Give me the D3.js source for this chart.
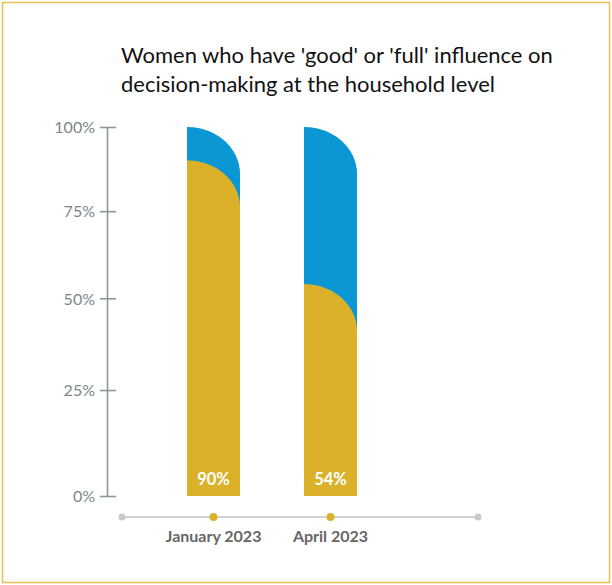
<!DOCTYPE html>
<html>
<head>
<meta charset="utf-8">
<script src="https://cdn.jsdelivr.net/npm/d3@7"></script>
<style>
  html, body { margin: 0; padding: 0; background: #fff; }
  svg { display: block; }
  text { font-family: Lato, "Open Sans", sans-serif; }
</style>
</head>
<body>
<svg id="chart" width="612" height="585"></svg>
<script>
// Survey rounds and share of women reporting good/full influence
const categories = ["January 2023", "April 2023"];
const shareValues = [0.90, 0.54];
const fullValues = [1, 1];
const tickValues = [0, 0.25, 0.5, 0.75, 1];
const tickLabels = ["0%", "25%", "50%", "75%", "100%"];
const titleLines = [
  "Women who have 'good' or 'full' influence on",
  "decision-making at the household level"
];

const BLUE = "#0A97D4";
const GOLD = "#DBB12A";
const AXIS = "#8C9898";
const LABEL = "#7A8888";

const svg = d3.select("#chart");

// Frame
svg.append("rect")
  .attr("x", 2.5).attr("y", 2.5)
  .attr("width", 607).attr("height", 580)
  .attr("fill", "none")
  .attr("stroke", "#E6C35C")
  .attr("stroke-width", 1.6);

// Title
const title = svg.append("text")
  .attr("x", 121)
  .attr("fill", "#111")
  .style("font-size", "20px");
title.selectAll("tspan").data(titleLines).join("tspan")
  .attr("x", 121)
  .attr("y", (d, i) => 63 + i * 29)
  .text(d => d);
// fit the first line to the title block width
const firstLen = title.select("tspan").node().getComputedTextLength();
title.style("font-size", (20 * 432 / firstLen).toFixed(2) + "px");

// Scales
const y = d3.scalePow().exponent(0.9).domain([0, 1]).range([496, 127]);
const x = d3.scalePoint().domain(categories).range([155, 389]).padding(0.5);
const barW = 53;
const capH = 47;

// Y axis
const yAxis = d3.axisLeft(y)
  .tickValues(tickValues)
  .tickFormat((d, i) => tickLabels[i])
  .tickSize(0)
  .tickPadding(12);
const yg = svg.append("g").attr("transform", "translate(107,0)").call(yAxis);
yg.select(".domain").attr("stroke", AXIS).attr("stroke-width", 1.6);
yg.selectAll(".tick line").remove();
yg.selectAll(".tick").append("line")
  .attr("x1", -7).attr("x2", 9)
  .attr("stroke", AXIS).attr("stroke-width", 1.6);
yg.selectAll(".tick text")
  .attr("fill", LABEL)
  .style("font-size", "16px")
  .attr("dy", "0.36em");

// Bar shape: straight left edge, rounded quarter-ellipse top-right corner
function barPath(cx, v) {
  const x0 = cx - barW / 2, x1 = cx + barW / 2;
  const yb = y(0), yt = y(v);
  const p = d3.path();
  p.moveTo(x0, yb);
  p.lineTo(x0, yt);
  // quarter ellipse from top-left to right edge
  const steps = 40;
  for (let i = 1; i <= steps; i++) {
    const t = (i / steps) * Math.PI / 2;
    p.lineTo(x0 + barW * Math.sin(t), yt + capH * (1 - Math.cos(t)));
  }
  p.lineTo(x1, yb);
  p.closePath();
  return p.toString();
}

// Background bars (100%)
svg.append("g").selectAll("path").data(categories).join("path")
  .attr("d", (c, i) => barPath(x(c), fullValues[i]))
  .attr("fill", BLUE);

// Value bars
svg.append("g").selectAll("path").data(categories).join("path")
  .attr("d", (c, i) => barPath(x(c), shareValues[i]))
  .attr("fill", GOLD);

// Value labels
svg.append("g").selectAll("text").data(categories).join("text")
  .attr("x", c => x(c))
  .attr("y", 485)
  .attr("text-anchor", "middle")
  .attr("fill", "#fff")
  .style("font-size", "16.5px")
  .style("font-weight", "bold")
  .text((c, i) => d3.format(".0%")(shareValues[i]));

// X axis: timeline with end markers and category dots
const axisY = 517;
svg.append("line")
  .attr("x1", 122).attr("x2", 478)
  .attr("y1", axisY).attr("y2", axisY)
  .attr("stroke", "#D3D3D3").attr("stroke-width", 2);
svg.append("g").selectAll("circle").data([122, 478]).join("circle")
  .attr("cx", d => d).attr("cy", axisY).attr("r", 3.5)
  .attr("fill", "#C8C8C8");
svg.append("g").selectAll("circle").data(categories).join("circle")
  .attr("cx", c => x(c)).attr("cy", axisY).attr("r", 4)
  .attr("fill", GOLD);
svg.append("g").selectAll("text").data(categories).join("text")
  .attr("x", c => x(c))
  .attr("y", 542)
  .attr("text-anchor", "middle")
  .attr("fill", "#666")
  .style("font-size", "16px")
  .style("font-weight", "bold")
  .text(c => c);
</script>
</body>
</html>
